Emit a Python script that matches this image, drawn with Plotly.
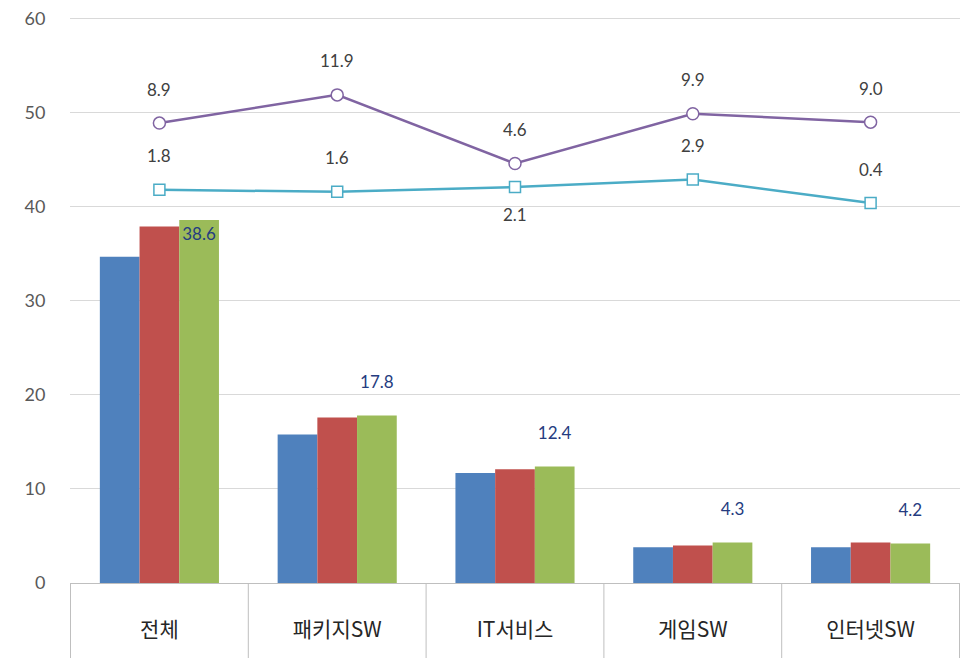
import plotly.graph_objects as go

categories = ["전체", "패키지SW", "IT서비스", "게임SW", "인터넷SW"]
bar_blue = [34.7, 15.8, 11.7, 3.8, 3.8]
bar_red = [37.9, 17.6, 12.1, 4.0, 4.3]
bar_green = [38.6, 17.8, 12.4, 4.3, 4.2]
green_labels = ["38.6", "17.8", "12.4", "4.3", "4.2"]
growth_purple = [8.9, 11.9, 4.6, 9.9, 9.0]
growth_cyan = [1.8, 1.6, 2.1, 2.9, 0.4]
cyan_label_side = ["above", "above", "below", "above", "above"]
y_ticks = [0, 10, 20, 30, 40, 50, 60]

BLUE = "#4F81BD"
RED = "#C0504D"
GREEN = "#9BBB59"
PURPLE = "#8064A2"
CYAN = "#4BACC6"
NUMFONT = "Lato, 'Noto Sans CJK KR', sans-serif"

fig = go.Figure()
fig.add_bar(x=categories, y=bar_blue, marker_color=BLUE, marker_line_width=0, name="A")
fig.add_bar(x=categories, y=bar_red, marker_color=RED, marker_line_width=0, name="B")
green_pos = ["inside"] + ["outside"] * (len(categories) - 1)
green_text = [green_labels[0]] + [t + "<br><span style='font-size:10px'> </span>" for t in green_labels[1:]]
fig.add_bar(x=categories, y=bar_green, marker_color=GREEN, marker_line_width=0, name="C",
            text=green_text, textposition=green_pos, insidetextanchor="end",
            textfont=dict(family=NUMFONT, size=17, color="#253C80"),
            cliponaxis=False, textangle=0)

fig.add_scatter(x=categories, y=growth_purple, yaxis="y2", mode="lines+markers",
                line=dict(color=PURPLE, width=2.5),
                marker=dict(symbol="circle", size=12, color="white",
                            line=dict(color=PURPLE, width=1.5)), name="P")
fig.add_scatter(x=categories, y=growth_cyan, yaxis="y2", mode="lines+markers",
                line=dict(color=CYAN, width=2.5),
                marker=dict(symbol="square", size=11, color="white",
                            line=dict(color=CYAN, width=1.5)), name="Q")

annotations = []
for c, v in zip(categories, growth_purple):
    annotations.append(dict(x=c, y=v, xref="x", yref="y2", text=f"{v:.1f}", showarrow=False,
                            yshift=34, font=dict(family=NUMFONT, size=17, color="#404040")))
for c, v, side in zip(categories, growth_cyan, cyan_label_side):
    annotations.append(dict(x=c, y=v, xref="x", yref="y2", text=f"{v:.1f}", showarrow=False,
                            yshift=34 if side == "above" else -27,
                            font=dict(family=NUMFONT, size=17, color="#404040")))

shapes = []
for i in range(len(categories) + 1):
    shapes.append(dict(type="line", xref="x", yref="paper", x0=i - 0.5, x1=i - 0.5,
                       y0=0, y1=-0.15, line=dict(color="#BFBFBF", width=1)))

fig.update_layout(
    width=968, height=658,
    margin=dict(l=62, r=16, t=6, b=83),
    paper_bgcolor="white", plot_bgcolor="white",
    barmode="group", bargap=0.33, bargroupgap=0,
    showlegend=False,
    annotations=annotations,
    shapes=shapes,
    xaxis=dict(showgrid=False, showline=True, linecolor="#BFBFBF", linewidth=1,
               ticks="", ticklabelstandoff=28,
               tickfont=dict(family="'Noto Sans CJK KR', sans-serif", size=21, color="#262626")),
    yaxis=dict(range=[0, 60.5], tickvals=y_ticks, showgrid=True, gridcolor="#D9D9D9", gridwidth=1,
               zeroline=False, showline=False, ticks="outside", ticklen=20,
               tickcolor="rgba(0,0,0,0)", ticklabeloverflow="allow", automargin=False,
               tickfont=dict(family=NUMFONT, size=18, color="#595959")),
    # secondary (hidden) axis for growth rates, aligned so that y2 = y - 40
    yaxis2=dict(range=[-40, 20.5], overlaying="y", side="right", visible=False),
)

fig.write_html("out.html")
